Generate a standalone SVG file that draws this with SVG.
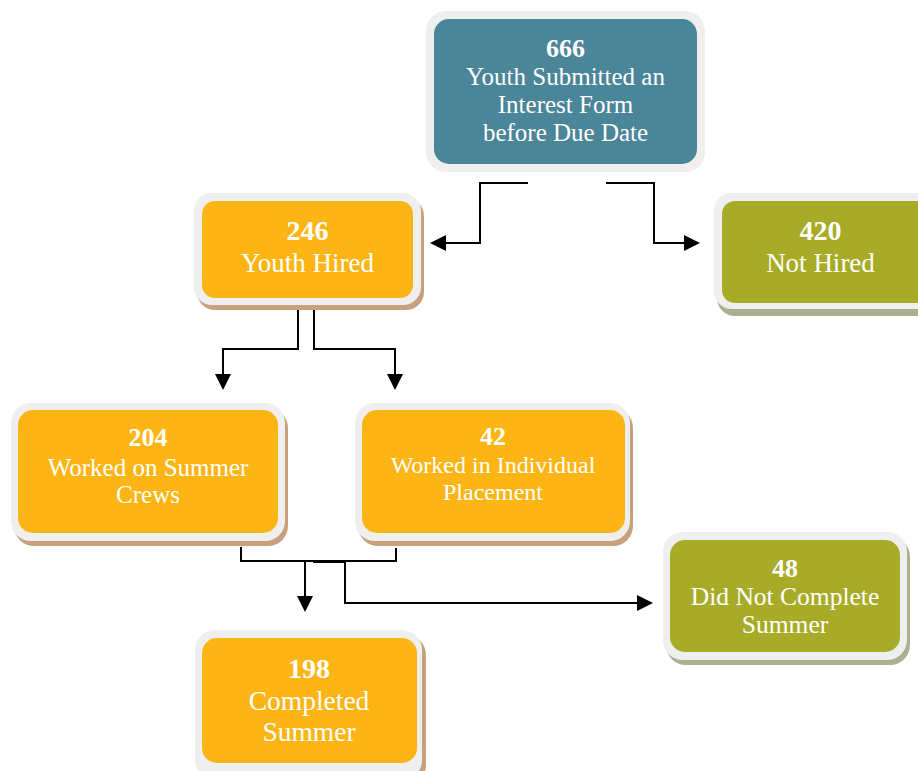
<svg xmlns="http://www.w3.org/2000/svg" width="918" height="771" viewBox="0 0 918 771">
<defs>
<style>
.bd{fill:#EFEFEF}
.sh-o{fill:#C9A07E}
.sh-g{fill:#AAB092}
.teal{fill:#4A8598}
.org{fill:#FDB515}
.olv{fill:#A8AB27}
text{font-family:"Liberation Serif","Times New Roman",serif;fill:#FFFFFF;text-anchor:middle}
.n{font-weight:bold}
.ln{fill:none;stroke:#000;stroke-width:2}
</style>
<marker id="ah" markerWidth="8" markerHeight="8" refX="7" refY="4" orient="auto" markerUnits="strokeWidth">
<path d="M0,0 L8,4 L0,8 Z" fill="#000"/>
</marker>
</defs>
<rect width="918" height="771" fill="#FFFFFF"/>

<g id="connectors">
<polyline class="ln" points="528,183 480,183 480,243 432,243" marker-end="url(#ah)"/>
<polyline class="ln" points="606,183 654,183 654,243 698,243" marker-end="url(#ah)"/>
<polyline class="ln" points="298,305 298,349 223,349 223,388" marker-end="url(#ah)"/>
<polyline class="ln" points="314,305 314,349 395,349 395,388" marker-end="url(#ah)"/>
<polyline class="ln" points="241,547 241,561 396,561 396,548"/>
<polyline class="ln" points="305,561 305,610" marker-end="url(#ah)"/>
<polyline class="ln" points="313,562 345,562 345,603 651,603" marker-end="url(#ah)"/>
</g>

<g id="node-666">
<rect class="bd" x="426" y="11" width="279" height="161" rx="20"/>
<rect class="teal" x="434" y="19" width="263" height="145" rx="15"/>
<text class="n" x="565.5" y="57" font-size="26">666</text>
<text x="565.5" y="85" font-size="25">Youth Submitted an</text>
<text x="565.5" y="113" font-size="25">Interest Form</text>
<text x="565.5" y="141" font-size="25">before Due Date</text>
</g>

<g id="node-246">
<rect class="sh-o" x="197" y="198" width="227" height="112" rx="18"/>
<rect class="bd" x="194" y="193" width="227" height="112" rx="18"/>
<rect class="org" x="202" y="201" width="211" height="97" rx="13"/>
<text class="n" x="307.5" y="240" font-size="28">246</text>
<text x="307.5" y="272" font-size="27">Youth Hired</text>
</g>

<g id="node-420">
<rect class="sh-g" x="717" y="200" width="227" height="116" rx="18"/>
<rect class="bd" x="714" y="193" width="227" height="116" rx="18"/>
<rect class="olv" x="722" y="201" width="211" height="102" rx="13"/>
<text class="n" x="820.5" y="240" font-size="28">420</text>
<text x="820.5" y="272" font-size="27">Not Hired</text>
</g>

<g id="node-204">
<rect class="sh-o" x="14" y="408" width="274" height="138" rx="20"/>
<rect class="bd" x="11" y="403" width="274" height="138" rx="20"/>
<rect class="org" x="18" y="410" width="260" height="123" rx="15"/>
<text class="n" x="148" y="446" font-size="26">204</text>
<text x="148" y="476" font-size="25">Worked on Summer</text>
<text x="148" y="503" font-size="25">Crews</text>
</g>

<g id="node-42">
<rect class="sh-o" x="358" y="408" width="275" height="138" rx="20"/>
<rect class="bd" x="355" y="403" width="275" height="138" rx="20"/>
<rect class="org" x="362" y="410" width="263" height="123" rx="15"/>
<text class="n" x="493" y="445" font-size="26">42</text>
<text x="493" y="473" font-size="24">Worked in Individual</text>
<text x="493" y="500" font-size="24">Placement</text>
</g>

<g id="node-198">
<rect class="sh-o" x="198" y="635" width="228" height="150" rx="20"/>
<rect class="bd" x="195" y="630" width="227" height="150" rx="20"/>
<rect class="org" x="202" y="638" width="215" height="125" rx="15"/>
<text class="n" x="309" y="678" font-size="28">198</text>
<text x="309" y="710" font-size="27.5">Completed</text>
<text x="309" y="741" font-size="27.5">Summer</text>
</g>

<g id="node-48">
<rect class="sh-g" x="666" y="537" width="244" height="128" rx="20"/>
<rect class="bd" x="663" y="532" width="244" height="128" rx="20"/>
<rect class="olv" x="670" y="540" width="230" height="112" rx="15"/>
<text class="n" x="785" y="577" font-size="26">48</text>
<text x="785" y="605" font-size="25.5">Did Not Complete</text>
<text x="785" y="633" font-size="25.5">Summer</text>
</g>
</svg>
